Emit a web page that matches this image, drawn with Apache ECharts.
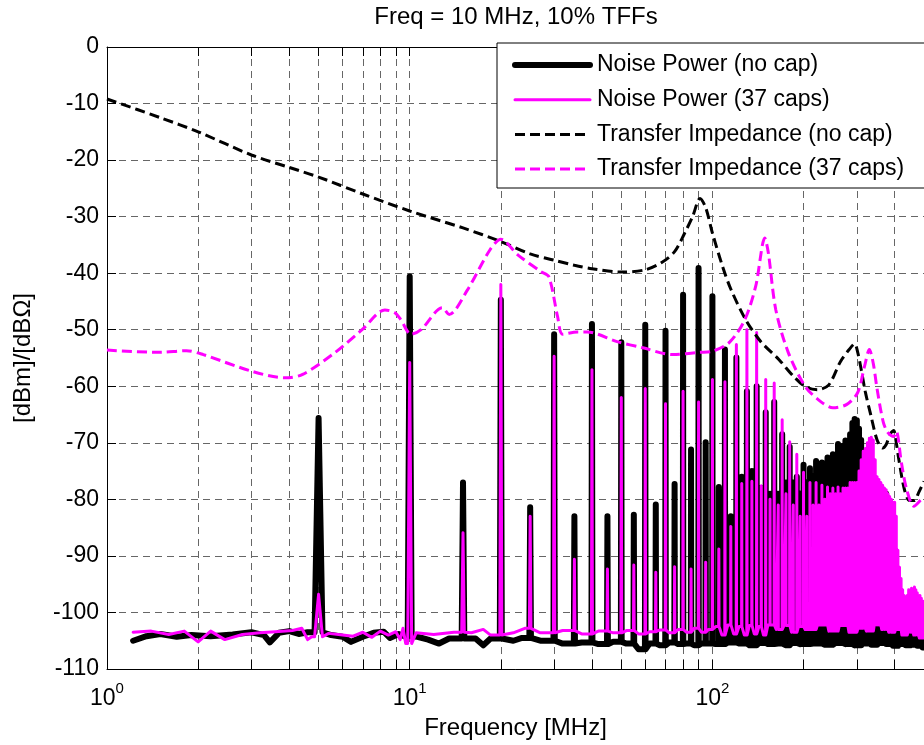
<!DOCTYPE html>
<html>
<head>
<meta charset="utf-8">
<title>Freq = 10 MHz, 10% TFFs</title>
<script src="https://cdn.jsdelivr.net/npm/echarts@6/dist/echarts.min.js"></script>
<style>
  html, body { margin: 0; padding: 0; background: #fff; }
  #chart { width: 924px; height: 745px; }
</style>
</head>
<body>
<div id="chart"></div>
<script>
// spectrum lines every 5 MHz
const harmonicMHz = [
  5, 10, 15, 20, 25, 30, 35, 40, 45, 50, 55, 60, 65, 70, 75, 80, 85, 90, 95, 100,
  105, 110, 115, 120, 125, 130, 135, 140, 145, 150, 155, 160, 165, 170, 175, 180, 185, 190, 195, 200,
  205, 210, 215, 220, 225, 230, 235, 240, 245, 250, 255, 260, 265, 270, 275, 280, 285, 290, 295, 300,
  305, 310, 315, 320, 325, 330, 335, 340, 345, 350, 355, 360, 365, 370, 375, 380, 385, 390, 395, 400,
  405, 410, 415, 420, 425, 430, 435, 440, 445, 450, 455, 460, 465, 470, 475, 480, 485, 490, 495, 500
];
const peakNoCap = [
  -65.6, -40.6, -77, -44.7, -81.4, -50.8, -83, -49, -83, -52.2, -82.7, -49.1, -80.9, -50.2, -77.3, -43.8, -71.2, -39.1, -69.9, -44.1,
  -77.8, -53.5, -83, -54.9, -76, -60.9, -75, -60, -78, -64.6, -79, -62.8, -79, -68.5, -77, -70.7, -77, -76, -79, -73.9,
  -77, -74.5, -76, -73.2, -76, -73.5, -75, -72.6, -74, -72, -73, -70.2, -72, -70.5, -69.6, -70.3, -68.5, -66.5, -65.8, -66,
  -67.5, -69.5, -74, -79, -81, -81, -80.5, -80, -80, -79.5, -79.5, -79, -78.8, -79, -79, -80, -82, -85, -88, -91,
  -94, -96, -98, -99, -100, -100, -100.5, -100, -100.5, -100, -100.5, -100, -100.5, -100, -100.5, -100, -100.5, -100, -100.5, -100
];
const peak37Caps = [
  -96.8, -55.8, -85.9, -42, -83, -54.7, -90.6, -57.1, -92.3, -62, -91.6, -60.4, -92.9, -63.1, -91.9, -60.9, -92.3, -62.8, -91.1, -58.8,
  -88.8, -59.2, -84.8, -52.6, -77.2, -50, -76.8, -50.5, -77.6, -58.8, -80, -59.4, -81, -65.9, -79, -69.8, -81, -72, -83, -75.2,
  -83, -77, -81, -77, -81, -77.5, -80, -77.8, -79, -78, -79, -77.8, -79, -78, -78, -78, -77, -77, -77, -77,
  -75, -73, -71.5, -71, -70, -69.2, -69, -69.5, -73, -76, -76.5, -77, -77.5, -78, -78.3, -79, -79.5, -80, -80.5, -80.5,
  -83, -89, -92, -94, -96, -97, -97.3, -97, -96, -96, -95.7, -96, -95.5, -96, -96.5, -97, -97, -97.5, -98, -98
];

// noise floor between the lines
const floorNoCapMHz = [
  1.22, 1.35, 1.5, 1.7, 1.9, 2.2, 2.6, 3.0, 3.3, 3.45, 3.7, 4.0, 4.3, 4.6, 5.5, 6.0, 6.4, 7.0, 7.6, 8.2,
  8.6, 9.2, 9.6, 10.6, 11.5, 12.5, 13.5, 16.5, 17.5, 18.5, 22, 23.5, 27, 32, 37, 42, 47, 52, 57, 62,
  67, 72, 77, 82, 87, 92, 97, 102.5, 112.5, 122.5, 132.5, 142.5, 152.5, 162.5, 172.5, 182.5, 192.5, 212.5, 232.5, 252.5,
  272.5, 292.5, 312.5, 332.5, 352.5, 372.5, 392.5, 412.5, 432.5, 452.5, 472.5, 492.5
];
const floorNoCapDb = [
  -105, -104.2, -103.8, -104.3, -104, -104.2, -103.9, -103.5, -104, -105.3, -103.6, -103.3, -103.8, -103.5, -104, -104.3, -105.2, -104.3, -103.6, -103.4,
  -104.5, -103.8, -104.2, -104.3, -104.8, -105.5, -104.6, -104.6, -105.8, -104.6, -105, -104.5, -105, -105.5, -105.3, -105.6, -105.2, -105.5, -106.5, -105.5,
  -105.8, -105.3, -105.6, -105.5, -105.8, -105.5, -105.5, -105.6, -105.3, -105.5, -105.8, -105.4, -105.6, -105.5, -105.8, -105.4, -105.6, -105.5, -105.7, -105.4,
  -105.6, -105.8, -105.5, -105.7, -105.4, -105.6, -105.9, -105.6, -105.8, -105.7, -105.9, -106.2
];
const floor37CapsMHz = [
  1.22, 1.4, 1.6, 1.8, 2.0, 2.2, 2.45, 2.8, 3.2, 3.6, 4.1, 4.4, 4.6, 4.75, 5.4, 6.0, 6.5, 7.0, 7.5, 8.0,
  8.5, 9.0, 9.3, 9.5, 9.7, 10.5, 12, 14, 16, 17.5, 18.5, 22, 24, 27, 32, 37, 42, 47, 52, 57,
  62, 67, 72, 77, 82, 87, 92, 97, 102.5, 107.5, 112.5, 117.5, 122.5, 127.5, 132.5, 137.5, 142.5, 147.5, 152.5, 162.5,
  172.5, 182.5, 192.5, 202.5, 222.5, 242.5, 262.5, 282.5, 302.5, 322.5, 342.5, 362.5, 382.5, 402.5, 422.5, 442.5, 462.5, 482.5
];
const floor37CapsDb = [
  -103.5, -103.3, -103.9, -103.3, -105.2, -103.3, -104.8, -103.9, -103.6, -103.4, -103.2, -102.8, -104.8, -104.3, -103.7, -104, -104.2, -103.5, -104.4, -103.3,
  -104, -103.4, -104.8, -102.8, -105.5, -103.6, -103.9, -103.5, -103.6, -103, -104, -103.6, -102.8, -103.6, -103.2, -103.8, -103.3, -103.6, -103.2, -103.8,
  -103.4, -103.1, -103.6, -103, -103.5, -102.8, -103.5, -103, -102.5, -104, -102.2, -103.8, -102.5, -104, -102.3, -103.8, -102.5, -104, -102.2, -103,
  -102.3, -103.5, -102.5, -103, -102.2, -103.3, -102.3, -103.5, -102.8, -103.3, -102.2, -103, -103.5, -103, -104, -103.5, -104, -104.5
];

// transfer impedance curves
const tiNoCapMHz = [
  1, 1.5, 2, 3, 4, 5, 7, 10, 15, 20, 25, 30, 35, 40, 50, 60, 68, 75, 81, 86,
  91, 95, 100, 108, 115, 129, 145, 166, 185, 203, 222, 242, 265, 283, 295, 302, 310, 320, 335, 350,
  365, 375, 386, 397, 405, 413, 431, 448, 465, 480, 500
];
const tiNoCapDb = [
  -9.2, -12.5, -15, -19.1, -21.3, -23, -26, -29, -32, -34.4, -36.6, -37.7, -38.6, -39.2, -39.8, -39.4, -38.1, -36.2, -32.9, -30,
  -26.8, -28.4, -32.9, -38.8, -42.8, -48.3, -52.2, -55.3, -58.2, -60.1, -60.6, -59.8, -55.6, -53.5, -52.5, -54, -57, -61, -65.5, -69.5,
  -70.9, -70.3, -68.5, -67.8, -70, -73, -78.3, -80.2, -80.2, -78.8, -76.8
];
const ti37CapsMHz = [
  1, 1.5, 1.83, 2.08, 3.03, 3.89, 4.43, 5.68, 6.96, 8.28, 8.93, 9.34, 10.1, 10.9, 12.8, 13.5, 15.5, 18.4, 20, 22.8,
  27.1, 28.8, 30.8, 32, 35.8, 38.6, 48.4, 58.9, 73.9, 90.7, 100, 114, 128, 139, 149, 153, 162, 178, 203, 229,
  250, 278, 302, 318, 330, 340, 350, 367, 380, 397, 405, 421, 438, 463, 490, 500
];
const ti37CapsDb = [
  -53.6, -54, -53.7, -54.4, -57.4, -58.5, -57.9, -54, -50, -46.5, -47, -48.2, -50.8, -50, -46.1, -47.3, -43, -35.9, -34, -36.8,
  -39.7, -40.6, -47.7, -50.8, -50.4, -50.4, -52.1, -53.2, -54.4, -54, -53.8, -52.2, -48.2, -42.3, -33.8, -36.4, -46.5, -54, -60.1, -62.8,
  -63.8, -63.2, -61.1, -56.5, -53.5, -56, -60.5, -66.4, -68.2, -68.9, -68, -73.5, -78.2, -81.2, -80, -79.5
];

const xTickMHz = [1, 2, 3, 4, 5, 6, 7, 8, 9, 10, 20, 30, 40, 50, 60, 70, 80, 90, 100, 200, 300, 400, 500];
const xLabelMHz = [1, 10, 100];
const seriesNames = ['Noise Power (no cap)', 'Noise Power (37 caps)', 'Transfer Impedance (no cap)', 'Transfer Impedance (37 caps)'];

const spikeHalfWidth = 0.15; // MHz, base of each line
const FONT = '"Liberation Sans", Arial, Helvetica, sans-serif';

// floor points and spectral lines merged in frequency order
function spectrum(peaks, floorMHz, floorDb) {
  const ev = [];
  floorMHz.forEach((f, i) => ev.push({ f: f, v: floorDb[i], floor: true }));
  harmonicMHz.forEach((f, i) => ev.push({ f: f, v: peaks[i], floor: false }));
  ev.sort((a, b) => a.f - b.f);
  const out = [];
  let base = floorDb[0];
  ev.forEach(e => {
    if (e.floor) {
      base = e.v;
      out.push([e.f, e.v]);
    } else {
      out.push([e.f - spikeHalfWidth, base], [e.f, e.v], [e.f + spikeHalfWidth, base]);
    }
  });
  return out;
}

function pairs(xs, ys) {
  return xs.map((x, i) => [x, ys[i]]);
}

const gridLine = { color: '#666', width: 1, type: [7, 5] };

const chart = echarts.init(document.getElementById('chart'), null, { renderer: 'canvas' });

chart.setOption({
  animation: false,
  backgroundColor: '#fff',
  textStyle: { fontFamily: FONT, color: '#000' },
  graphic: [{
    type: 'text',
    x: 516,
    y: 17,
    style: {
      text: 'Freq = 10 MHz, 10% TFFs',
      fontSize: 24,
      fontFamily: FONT,
      fill: '#000',
      align: 'center',
      verticalAlign: 'middle'
    }
  }],
  grid: { left: 107, top: 47, right: -2, bottom: 75, containLabel: false },
  legend: {
    orient: 'vertical',
    left: 497,
    top: 43,
    itemWidth: 75,
    itemHeight: 14,
    itemGap: 11.7,
    padding: [10.5, 24, 7.4, 15],
    borderColor: '#000',
    borderWidth: 1,
    borderRadius: 0,
    backgroundColor: '#fff',
    selectedMode: false,
    itemStyle: { opacity: 0 },
    lineStyle: { width: 'inherit' },
    textStyle: { fontSize: 23, fontFamily: FONT, color: '#000', padding: [0, 0, 0, 2] },
    data: seriesNames
  },
  xAxis: [{
    type: 'log',
    logBase: 10,
    min: 1,
    max: 500,
    position: 'bottom',
    axisLine: { onZero: false, lineStyle: { color: '#000', width: 1 } },
    axisTick: { show: true, inside: true, length: 9, customValues: xTickMHz, lineStyle: { color: '#000' } },
    minorTick: { show: false },
    splitLine: { show: true, lineStyle: gridLine },
    axisLabel: {
      customValues: xLabelMHz,
      margin: 12,
      formatter: v => '{b|10}{e|' + Math.round(Math.log10(v)) + '}',
      rich: {
        b: { fontSize: 23, fontFamily: FONT, color: '#000', lineHeight: 29, verticalAlign: 'bottom' },
        e: { fontSize: 15, fontFamily: FONT, color: '#000', lineHeight: 29, verticalAlign: 'top' }
      }
    },
    name: 'Frequency [MHz]',
    nameLocation: 'middle',
    nameGap: 47,
    nameTextStyle: { fontSize: 24, fontFamily: FONT, color: '#000' }
  }, {
    type: 'log',
    logBase: 10,
    min: 1,
    max: 500,
    position: 'top',
    axisLine: { onZero: false, lineStyle: { color: '#000', width: 1 } },
    axisTick: { show: true, inside: true, length: 9, customValues: xTickMHz, lineStyle: { color: '#000' } },
    splitLine: { show: false },
    axisLabel: { show: false }
  }],
  yAxis: [{
    type: 'value',
    min: -110,
    max: 0,
    interval: 10,
    axisLine: { show: true, onZero: false, lineStyle: { color: '#000', width: 1 } },
    axisTick: { show: true, inside: true, length: 9, lineStyle: { color: '#000' } },
    splitLine: { show: true, lineStyle: gridLine },
    axisLabel: { fontSize: 23, fontFamily: FONT, color: '#000', margin: 8 },
    name: '[dBm]/[dBΩ]',
    nameLocation: 'middle',
    nameRotate: 90,
    nameGap: 72,
    nameTextStyle: { fontSize: 24, fontFamily: FONT, color: '#000' }
  }],
  series: [{
    name: seriesNames[0],
    type: 'line',
    symbol: 'none',
    data: spectrum(peakNoCap, floorNoCapMHz, floorNoCapDb),
    lineStyle: { color: '#000', width: 6, cap: 'round', join: 'round' },
    itemStyle: { color: '#000' }
  }, {
    name: seriesNames[1],
    type: 'line',
    symbol: 'none',
    data: spectrum(peak37Caps, floor37CapsMHz, floor37CapsDb),
    lineStyle: { color: '#ff00ff', width: 3, cap: 'round', join: 'round' },
    itemStyle: { color: '#ff00ff' }
  }, {
    name: seriesNames[2],
    type: 'line',
    symbol: 'none',
    smooth: 0.3,
    data: pairs(tiNoCapMHz, tiNoCapDb),
    lineStyle: { color: '#000', width: 3, type: [10, 5] },
    itemStyle: { color: '#000' }
  }, {
    name: seriesNames[3],
    type: 'line',
    symbol: 'none',
    smooth: 0.3,
    data: pairs(ti37CapsMHz, ti37CapsDb),
    lineStyle: { color: '#ff00ff', width: 3, type: [10, 5] },
    itemStyle: { color: '#ff00ff' }
  }]
});
</script>
</body>
</html>
